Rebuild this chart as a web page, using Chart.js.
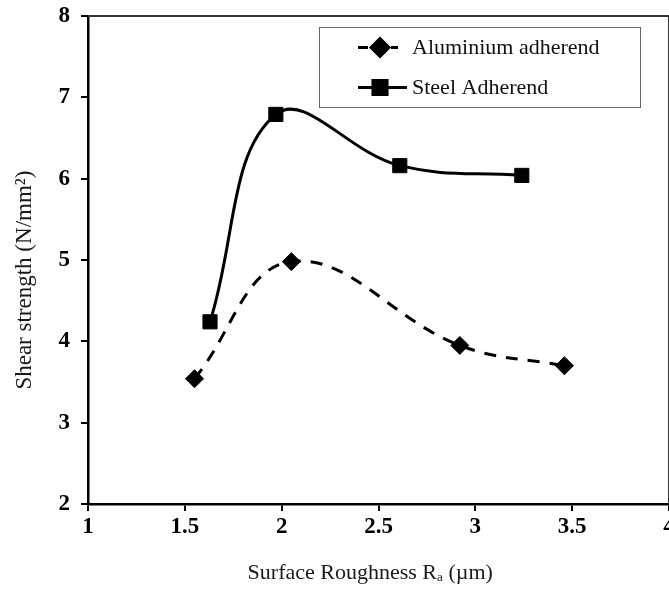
<!DOCTYPE html>
<html>
<head>
<meta charset="utf-8">
<script src="https://cdn.jsdelivr.net/npm/chart.js@4.4.0/dist/chart.umd.min.js"></script>
<style>
    html, body { margin: 0; padding: 0; background: #fff; overflow: hidden; }
    .graph-container { position: relative; width: 690px; height: 589px; }
</style>
</head>
<body>
<div class="graph-container"><canvas class="roughness-graph"></canvas></div>
<script>
// values
const aluminium_x = [1.55, 2.05, 2.92, 3.46];
const aluminium_y = [3.54, 4.98, 3.95, 3.70];
const steel_x = [1.63, 1.97, 2.61, 3.24];
const steel_y = [4.24, 6.79, 6.16, 6.04];
const series_labels = ['Aluminium adherend', 'Steel Adherend'];
const x_ticks = [1, 1.5, 2, 2.5, 3, 3.5, 4];
const y_ticks = [2, 3, 4, 5, 6, 7, 8];

const serif = '"Liberation Serif", "Times New Roman", serif';

// top/right frame of the plot + the boxed legend (line sample with marker)
const frame_legend = {
    id: 'frame_legend',
    afterDraw(chart) {
        let ctx = chart.ctx;
        let area = chart.chartArea;
        ctx.save();
        ctx.strokeStyle = '#333';
        ctx.lineWidth = 2;
        ctx.beginPath();
        ctx.moveTo(area.left, area.top);
        ctx.lineTo(area.right, area.top);
        ctx.lineTo(area.right, area.bottom);
        ctx.stroke();

        ctx.lineWidth = 1;
        ctx.strokeStyle = '#666';
        ctx.strokeRect(319.5, 27.5, 321, 80);

        chart.data.datasets.forEach((ds, i) => {
            let y = 47.5 + i * 40;
            ctx.strokeStyle = '#000';
            ctx.lineWidth = 3;
            ctx.beginPath();
            if (ds.borderDash && ds.borderDash.length) {
                ctx.moveTo(358, y); ctx.lineTo(368, y);
                ctx.moveTo(391, y); ctx.lineTo(398, y);
            } else {
                ctx.moveTo(358, y); ctx.lineTo(407, y);
            }
            ctx.stroke();
            ctx.fillStyle = '#000';
            Chart.helpers.drawPoint(ctx, {
                pointStyle: ds.pointStyle,
                radius: ds.pointRadius,
                borderWidth: 1
            }, 380, y);
            ctx.font = '22px ' + serif;
            ctx.fillStyle = '#111';
            ctx.textBaseline = 'middle';
            ctx.textAlign = 'left';
            ctx.fillText(ds.label, 412, y + 1);
        });
        ctx.restore();
    }
};

let graph_element = document.querySelector('.roughness-graph').getContext('2d');

let roughness_graph = new Chart(graph_element, {
    type: 'line',
    data: {
        datasets: [{
            label: series_labels[0],
            data: aluminium_x.map((x, i) => ({ x: x, y: aluminium_y[i] })),
            borderColor: '#000',
            backgroundColor: '#000',
            borderWidth: 3,
            borderDash: [12, 10],
            tension: 0.4,
            pointStyle: 'rectRot',
            pointRadius: 9,
            pointBorderWidth: 1
        }, {
            label: series_labels[1],
            data: steel_x.map((x, i) => ({ x: x, y: steel_y[i] })),
            borderColor: '#000',
            backgroundColor: '#000',
            borderWidth: 3,
            tension: 0.4,
            pointStyle: 'rect',
            pointRadius: 10,
            pointBorderWidth: 1
        }]
    },
    options: {
        responsive: true,
        maintainAspectRatio: false,
        animation: false,
        layout: {
            padding: { top: 16, right: 21, bottom: 0, left: 0 }
        },
        plugins: {
            legend: { display: false },
            tooltip: { enabled: false }
        },
        scales: {
            x: {
                type: 'linear',
                min: 1,
                max: 4,
                afterBuildTicks: (s) => { s.ticks = x_ticks.map(v => ({ value: v })); },
                afterFit: (s) => { s.height = 85; },
                ticks: {
                    color: '#000',
                    padding: 2,
                    maxRotation: 0,
                    callback: (v) => String(v),
                    font: { size: 23, family: serif, weight: 'bold' }
                },
                grid: { drawOnChartArea: false, drawTicks: true, tickLength: 7, color: '#000', lineWidth: 2 },
                border: { color: '#000', width: 2.5 },
                title: {
                    display: true,
                    text: 'Surface Roughness R\u2090 (\u00b5m)   ',
                    color: '#1a1a1a',
                    font: { size: 22, family: serif },
                    padding: { top: 0, bottom: 3 }
                }
            },
            y: {
                type: 'linear',
                min: 2,
                max: 8,
                afterBuildTicks: (s) => { s.ticks = y_ticks.map(v => ({ value: v })); },
                afterFit: (s) => {
                    s.width = 88;
                    s.paddingTop = 0;
                    s.paddingBottom = 0;
                },
                ticks: {
                    color: '#000',
                    padding: 11,
                    callback: (v) => String(v),
                    font: { size: 23, family: serif, weight: 'bold' }
                },
                grid: { drawOnChartArea: false, drawTicks: true, tickLength: 7, color: '#000', lineWidth: 2 },
                border: { color: '#000', width: 2.5 },
                title: {
                    display: true,
                    text: 'Shear strength (N/mm\u00b2)       ',
                    color: '#1a1a1a',
                    font: { size: 23, family: serif },
                    padding: { top: 11, bottom: 0 }
                }
            }
        }
    },
    plugins: [frame_legend]
});
</script>
</body>
</html>
